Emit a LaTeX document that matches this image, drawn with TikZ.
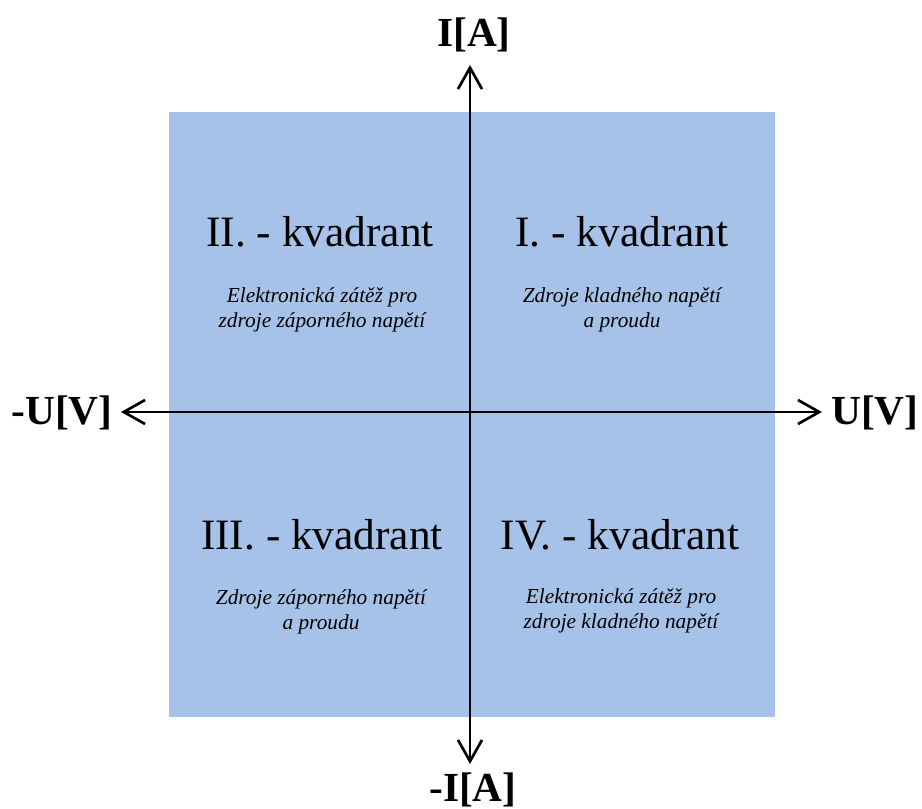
\documentclass[tikz,border=0pt]{standalone}
\usepackage{fontspec}
\setmainfont{Liberation Serif}[ItalicFont={Liberation Serif Italic},BoldFont={Liberation Serif Bold}]
\usetikzlibrary{arrows.meta}
\definecolor{quadblue}{HTML}{A7C2E8}
\tikzset{
  axis/.style={line width=2pt, -{Straight Barb[length=16pt,width=18pt,line width=2pt]}},
  axlabel/.style={font=\fontsize{31}{36}\selectfont\bfseries, inner sep=0pt},
  qtitle/.style={font=\fontsize{32.5}{38}\selectfont, inner sep=0pt},
  qsub/.style={font=\fontsize{16}{19}\selectfont\itshape, align=center, inner sep=0pt},
}
\begin{document}
\begin{tikzpicture}[x=0.75pt,y=-0.75pt]
\useasboundingbox (0,0) rectangle (922,809);
\fill[quadblue] (169,112) rectangle (775,717);
\coordinate (o) at (470,412);
\coordinate (top) at (470,65);
\coordinate (bot) at (470,764);
\coordinate (lft) at (121,412);
\coordinate (rgt) at (822,412);
\draw[axis] (o) -- (top);
\draw[axis] (o) -- (bot);
\draw[axis] (o) -- (lft);
\draw[axis] (o) -- (rgt);
\node[axlabel] (ia) at (474,35) {I[A]};
\node[axlabel] (mia) at (473,790) {-I[A]};
\node[axlabel] (muv) at (62,413) {-U[V]};
\node[axlabel] (uv) at (875,413) {U[V]};
\node[qtitle] (q2) at (320,232) {II. - kvadrant};
\node[qtitle] (q1) at (622,232) {I. - kvadrant};
\node[qtitle] (q3) at (322,535) {III. - kvadrant};
\node[qtitle] (q4) at (620,535) {IV. - kvadrant};
\node[qsub] (s2) at (322,310) {Elektronická zátěž pro\\zdroje záporného napětí};
\node[qsub] (s1) at (622,310) {Zdroje kladného napětí\\a proudu};
\node[qsub] (s3) at (321,612) {Zdroje záporného napětí\\a proudu};
\node[qsub] (s4) at (621,611) {Elektronická zátěž pro\\zdroje kladného napětí};
\end{tikzpicture}
\end{document}
